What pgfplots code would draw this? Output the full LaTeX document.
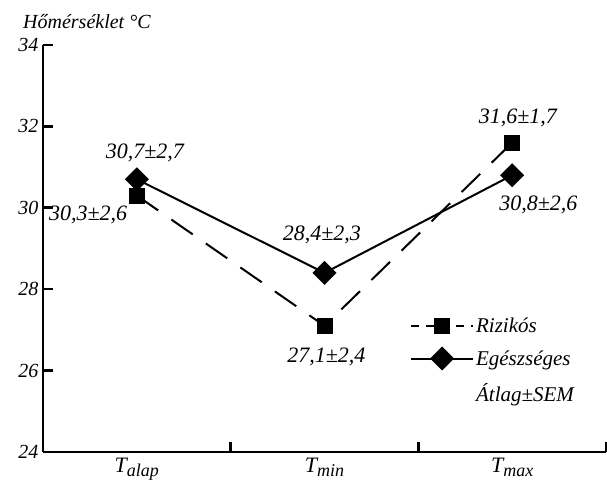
\documentclass[border=0pt]{standalone}
\usepackage{fontspec}
\setmainfont{Liberation Serif}
\usepackage{pgfplots}
\pgfplotsset{compat=1.18}
\newcommand{\tf}{\itshape\fontsize{20}{22}\selectfont}
\newcommand{\gf}{\itshape\fontsize{21}{23}\selectfont}
\newcommand{\lf}{\itshape\fontsize{22}{24}\selectfont}
\newcommand{\sub}[1]{\itshape T\raisebox{-0.4ex}{\fontsize{18}{18}\selectfont #1}}
\begin{document}
\begin{tikzpicture}
\begin{axis}[
  at={(0,0)}, anchor=south west,
  scale only axis, width=563pt, height=407pt,
  xmin=0, xmax=3, ymin=24, ymax=34,
  clip=false,
  axis x line*=bottom, axis y line*=left,
  axis line style={line width=2.6pt, -},
  xtick={1,2,3}, xticklabels={},
  extra x ticks={0.5,1.5,2.5},
  extra x tick labels={\sub{alap},\sub{min},\sub{max}},
  extra x tick style={major tick length=0pt},
  ytick={24,26,28,30,32,34},
  yticklabels={\itshape 24,\itshape 26,\itshape 28,\itshape 30,\itshape 32,\itshape 34},
  tick style={line width=2.6pt, black},
  major tick length=10pt, tick align=inside,
  yticklabel style={font=\tf, xshift=-1pt},
  xticklabel style={font=\itshape\fontsize{22}{24}\selectfont, yshift=-3pt},
  legend image code/.code={\draw[mark repeat=2,mark phase=2,#1] plot coordinates {(0pt,0pt) (31pt,0pt) (62pt,0pt)};},
  legend style={draw=none, fill=none, font=\gf, inner sep=0pt, row sep=12pt,
    at={(axis cs:1.955,27.35)}, anchor=north west},
  legend cell align=left,
]
\addplot[black, line width=2pt, dash pattern=on 26pt off 16pt, mark=square*, mark size=7pt, mark options={solid},
  legend image post style={dash pattern=on 8pt off 7pt}]
  coordinates {(0.5,30.3) (1.5,27.1) (2.5,31.6)};
\addlegendentry{Rizikós}
\addplot[black, line width=2pt, mark=square*, mark size=7.5pt, mark options={rotate=45}]
  coordinates {(0.5,30.7) (1.5,28.4) (2.5,30.8)};
\addlegendentry{Egészséges}
\addlegendimage{empty legend}
\addlegendentry{\raisebox{-5pt}{Átlag±SEM}}
\node[font=\lf] at (axis cs:0.543,31.35) {30,7±2,7};
\node[font=\lf] at (axis cs:0.24,29.82) {30,3±2,6};
\node[font=\lf] at (axis cs:1.486,29.33) {28,4±2,3};
\node[font=\lf] at (axis cs:1.51,26.33) {27,1±2,4};
\node[font=\lf] at (axis cs:2.53,32.2) {31,6±1,7};
\node[font=\lf] at (axis cs:2.64,30.07) {30,8±2,6};
\end{axis}
\node[anchor=west, font=\tf, inner sep=0pt] at (-20pt,430pt) {Hőmérséklet °C};
\pgfresetboundingbox
\path (-43pt,-35pt) rectangle (564pt,452pt);
\end{tikzpicture}
\end{document}
